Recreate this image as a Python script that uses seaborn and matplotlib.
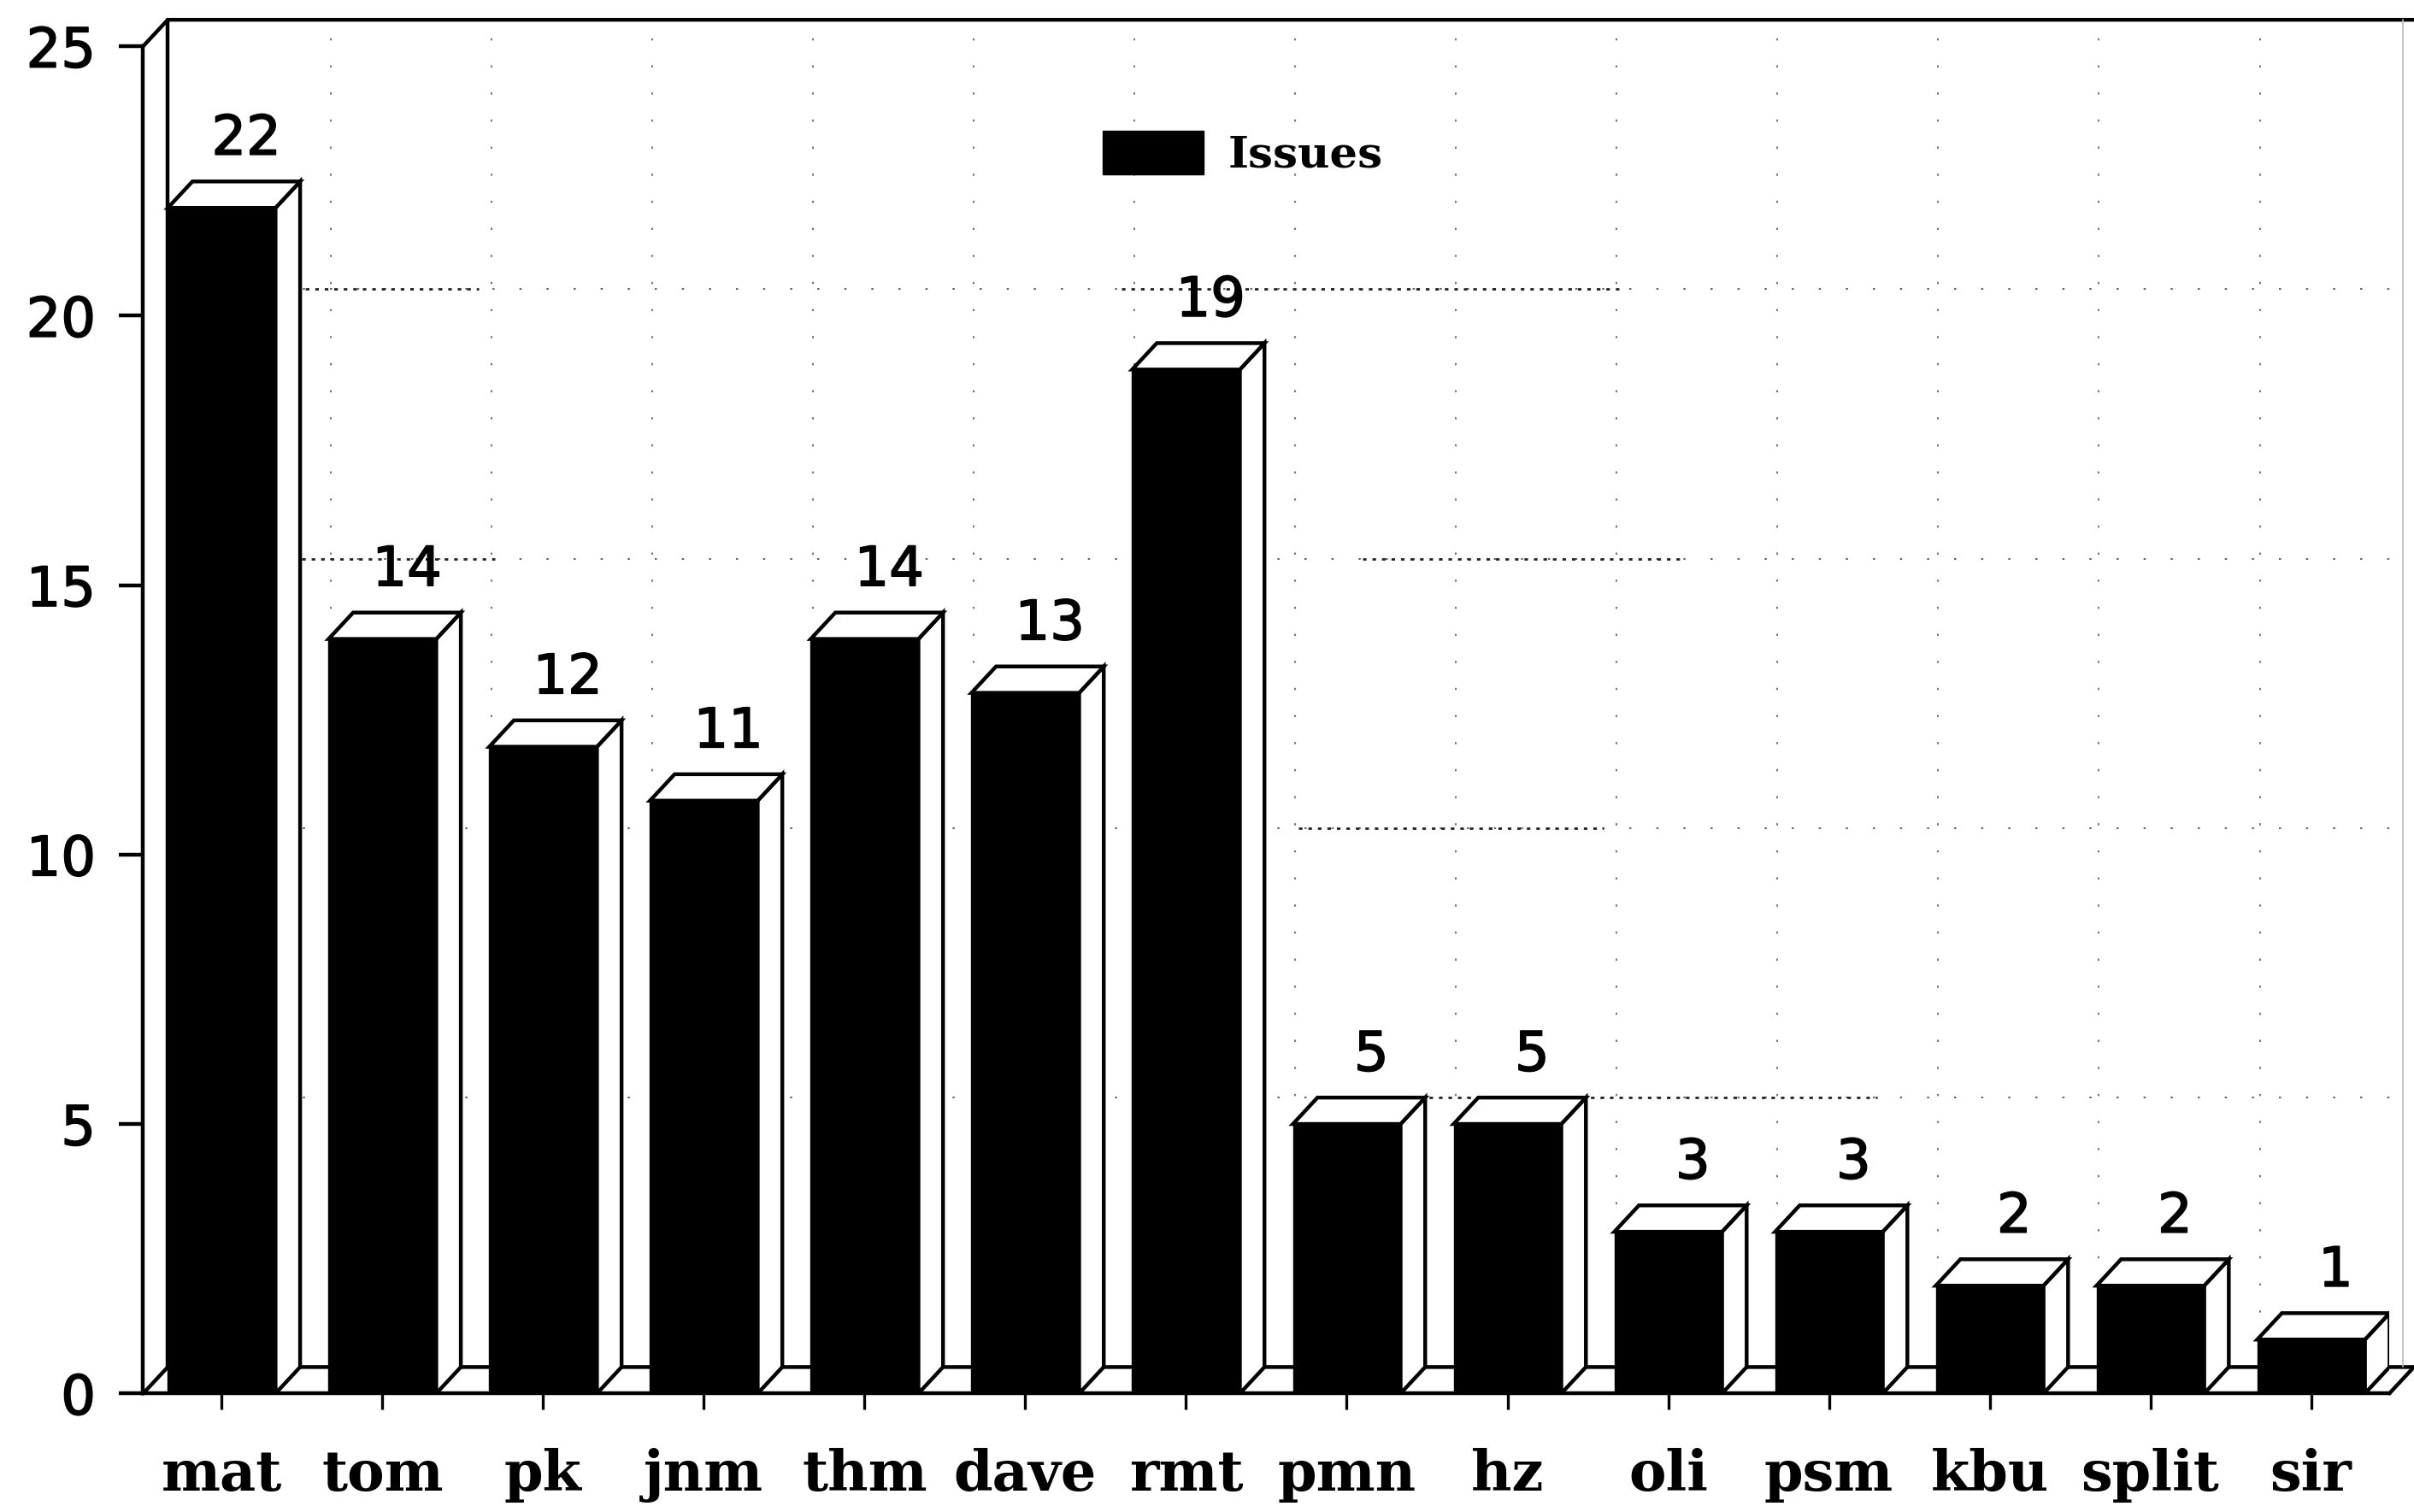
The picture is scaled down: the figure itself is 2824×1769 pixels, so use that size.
import matplotlib
matplotlib.use('Agg')
import matplotlib.pyplot as plt
import matplotlib.patheffects as pe
from matplotlib.patches import Polygon
import seaborn as sns

# chart data
categories = ['mat', 'tom', 'pk', 'jnm', 'thm', 'dave', 'rmt', 'pmn', 'hz', 'oli', 'psm', 'kbu', 'split', 'sir']
issues = [22, 14, 12, 11, 14, 13, 19, 5, 5, 3, 3, 2, 2, 1]
y_ticks = [0, 5, 10, 15, 20, 25]
series_name = 'Issues'

sns.set_theme(style='white')

fig = plt.figure(figsize=(28.24, 17.69), dpi=100)
ax = fig.add_axes([93 / 1568, 1 - 905 / 982, (1552 - 93) / 1568, 875 / 982])

sns.barplot(x=categories, y=issues, color='black', saturation=1, width=0.67,
            edgecolor='black', linewidth=1, label=series_name, ax=ax, zorder=4)

ax.set_xlim(-0.4885, 13.487)
ax.set_ylim(0, 25)
ax.set_yticks(y_ticks)

# fake 3d depth, in data units
dx = 0.153
dy = 0.49
lw_main = 3.2
line = dict(color='black', lw=lw_main, clip_on=False, solid_capstyle='round')
heavy = [pe.withStroke(linewidth=1.2, foreground='black')]

# dotted grid on the back wall
sparse = (0, (1.2, 14))
dense = (0, (1.5, 2.5))
x_right = 13.487 + dx
for t in y_ticks[1:-1]:
    ax.plot([-0.4885 + dx, x_right], [t + dy, t + dy], color='#666666', lw=1.5, ls=sparse, clip_on=False, zorder=1)
for t, a, b in [(20, 0.4, 1.6), (20, 5.6, 8.7), (15, 0.5, 1.7), (15, 7.1, 9.1), (10, 6.7, 8.6), (5, 7.1, 10.3)]:
    ax.plot([a, b], [t + dy, t + dy], color='#222222', lw=2, ls=dense, zorder=1)
for bar in ax.patches[1:]:
    ax.plot([bar.get_x() + dx * 0.1] * 2, [dy, 25 + dy], color='#777777', lw=1.5, ls=sparse, clip_on=False, zorder=1)

# walls and floor
ax.add_patch(Polygon([(-0.4885, 0), (-0.4885 + dx, dy), (x_right, dy), (13.487, 0)],
                     closed=True, fc='white', ec='none', zorder=1.5))
ax.plot([-0.4885, -0.4885 + dx, x_right], [25, 25 + dy, 25 + dy], **line)
ax.plot([-0.4885 + dx, -0.4885 + dx], [dy, 25 + dy], **line)
ax.plot([-0.4885, -0.4885 + dx, x_right], [0, dy, dy], **line)
ax.plot([13.487, x_right], [0, dy], **line)
ax.plot([x_right - 0.07] * 2, [dy, 25 + dy], color='#bbbbbb', lw=1.2, clip_on=False)

# top and side faces of each bar
for bar in ax.patches[:len(issues)]:
    left = bar.get_x()
    right = left + bar.get_width()
    h = bar.get_height()
    ax.add_patch(Polygon([(right, 0), (right + dx, dy), (right + dx, h + dy), (right, h)],
                         closed=True, fc='white', ec='black', lw=lw_main, zorder=3))
    ax.add_patch(Polygon([(left, h), (left + dx, h + dy), (right + dx, h + dy), (right, h)],
                         closed=True, fc='white', ec='black', lw=lw_main, zorder=3))
    ax.text(left + bar.get_width() / 2 + dx, h + dy + 0.5, f'{h:.0f}', ha='center', va='baseline',
            fontsize=46, family='DejaVu Sans', color='black', zorder=5, path_effects=heavy)

for side in ['top', 'right']:
    ax.spines[side].set_visible(False)
for side in ['left', 'bottom']:
    ax.spines[side].set_linewidth(lw_main)
    ax.spines[side].set_color('black')
    ax.spines[side].set_zorder(6)

ax.tick_params(axis='y', length=20, width=lw_main, pad=20, labelsize=46, color='black', labelcolor='black', left=True)
ax.tick_params(axis='x', length=14, width=2.4, pad=32, color='black', labelcolor='black', bottom=True)
for lab in ax.get_yticklabels():
    lab.set_path_effects(heavy)
for lab in ax.get_xticklabels():
    lab.set_family('DejaVu Serif')
    lab.set_fontweight('bold')
    lab.set_fontsize(47)

leg = ax.legend(loc='center left', bbox_to_anchor=(0.427, 0.92), frameon=False, handlelength=2.3,
                handleheight=1.13, handletextpad=0.56, borderpad=0, borderaxespad=0, labelcolor='black',
                prop={'family': 'DejaVu Serif', 'weight': 'bold', 'size': 37})

fig.savefig('out.png', dpi=100, facecolor='white')
